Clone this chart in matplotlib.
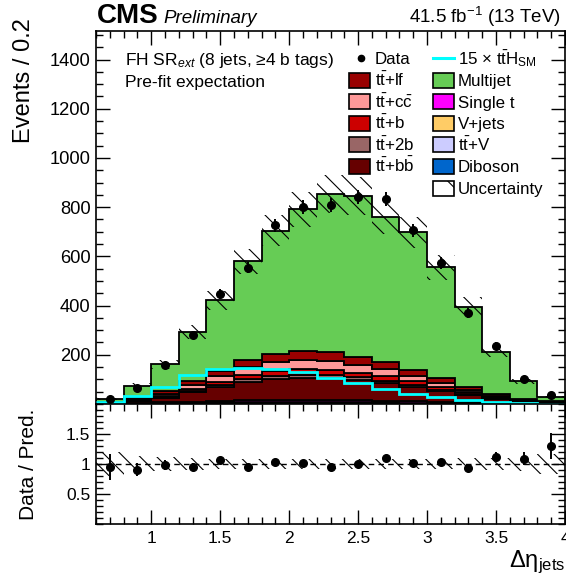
import numpy as np
import matplotlib
matplotlib.use("Agg")
import matplotlib.pyplot as plt
from matplotlib.patches import Rectangle
from matplotlib.lines import Line2D
from matplotlib.ticker import FixedLocator, MultipleLocator, NullFormatter

plt.rcParams['font.family'] = ['Liberation Sans', 'DejaVu Sans']
plt.rcParams['mathtext.fontset'] = 'custom'
plt.rcParams['mathtext.rm'] = 'Liberation Sans'
plt.rcParams['mathtext.it'] = 'Liberation Sans:italic'
plt.rcParams['mathtext.bf'] = 'Liberation Sans:bold'
plt.rcParams['hatch.linewidth'] = 0.8

# ---- binning: delta-eta of jets, 0.2 wide bins ----
bin_edges = [0.6, 0.8, 1.0, 1.2, 1.4, 1.6, 1.8, 2.0, 2.2, 2.4, 2.6, 2.8,
             3.0, 3.2, 3.4, 3.6, 3.8, 4.0]

# ---- pre-fit expectation per process (events / bin) ----
diboson  = [0.0, 0.0, 0.1, 0.1, 0.1, 0.2, 0.2, 0.2, 0.2, 0.2, 0.1, 0.1, 0.1, 0.1, 0.0, 0.0, 0.0]
ttv      = [0.3, 1.0, 2.0, 3.0, 4.0, 5.0, 5.5, 6.0, 6.0, 5.5, 5.0, 4.0, 3.0, 2.0, 1.0, 0.6, 0.3]
vjets    = [0.2, 0.5, 1.0, 1.5, 2.0, 2.0, 2.5, 2.5, 2.5, 2.0, 2.0, 1.5, 1.0, 1.0, 0.5, 0.3, 0.2]
single_t = [0.5, 1.5, 3.0, 5.0, 7.0, 8.0, 9.0, 9.0, 9.0, 8.0, 7.0, 6.0, 5.0, 3.0, 2.0, 1.0, 0.5]
ttbb     = [2.3, 9.5, 20, 38, 55, 74, 84, 88, 87, 80, 70, 57, 43, 29, 16.5, 8.5, 5.4]
tt2b     = [0.4, 1.5, 3.2, 5.9, 8.6, 11.5, 13, 13.7, 13.5, 12.4, 11, 8.9, 6.7, 4.5, 2.6, 1.3, 0.8]
ttb      = [0.6, 2.3, 5.0, 9.2, 13.5, 18, 20.5, 21.5, 21, 19.5, 17, 14, 10.5, 7.2, 4.0, 2.1, 1.3]
ttcc     = [0.9, 3.9, 8.3, 15.5, 22.8, 30.5, 34.6, 36.3, 35.7, 32.7, 28.9, 23.5, 17.8, 12, 6.8, 3.5, 2.2]
ttlf     = [0.9, 3.8, 8.5, 15.4, 23.1, 31, 35, 36.5, 35.8, 32.4, 28.1, 23.6, 17.5, 12.1, 6.6, 3.6, 2.3]
multijet = [15, 50, 111, 199, 285, 399, 500, 578, 643, 653, 592, 560, 451, 325, 170, 71, 14]

# ttH signal (SM normalisation), drawn scaled by 15
tth_sm = [0.53, 2.07, 4.73, 7.93, 9.53, 9.73, 9.53, 8.8, 7.0, 5.67, 4.07, 2.73, 1.87, 1.13, 0.67, 0.27, 0.13]
tth_scale = 15

# relative total uncertainty of the prediction
unc_rel = [0.20, 0.14, 0.11, 0.10, 0.09, 0.09, 0.09, 0.09, 0.09, 0.09, 0.09, 0.09, 0.09, 0.10, 0.10, 0.12, 0.16]

# observed events
data = [20, 67, 159, 279, 447, 554, 726, 801, 808, 841, 833, 707, 574, 369, 236, 100, 35]

# ---- stack definition (bottom to top) ----
stack = [
    ("Diboson",  diboson,  "#0066cc"),
    (r"$\mathrm{t\bar{t}}$+V", ttv, "#ccccff"),
    ("V+jets",   vjets,    "#ffcc66"),
    ("Single t", single_t, "#ff00ff"),
    (r"$\mathrm{t\bar{t}}$+b$\mathrm{\bar{b}}$", ttbb, "#660000"),
    (r"$\mathrm{t\bar{t}}$+2b", tt2b, "#996666"),
    (r"$\mathrm{t\bar{t}}$+b", ttb, "#cc0000"),
    (r"$\mathrm{t\bar{t}}$+c$\mathrm{\bar{c}}$", ttcc, "#ff9999"),
    (r"$\mathrm{t\bar{t}}$+lf", ttlf, "#990000"),
    ("Multijet", multijet, "#66cc55"),
]

edges = np.array(bin_edges)
centers = 0.5 * (edges[:-1] + edges[1:])
width = edges[1:] - edges[:-1]
data_arr = np.array(data, dtype=float)

W, H = 566, 583
fig = plt.figure(figsize=(W / 100, H / 100), dpi=100)

def fx(px):
    return px / W

def fy(py):
    return 1 - py / H

ax = fig.add_axes([fx(96), fy(404), fx(565) - fx(96), fy(31) - fy(404)])
axr = fig.add_axes([fx(96), fy(524), fx(565) - fx(96), fy(404) - fy(524)])

# ---- stacked prediction ----
base = np.zeros(len(centers))
for name, vals, col in stack:
    v = np.array(vals, dtype=float)
    ax.stairs(base + v, edges, baseline=base.copy(), fill=True,
              facecolor=col, edgecolor="black", linewidth=1.3, zorder=2)
    base = base + v
total = base

# uncertainty band
unc = total * np.array(unc_rel)
ax.bar(centers, 2 * unc, bottom=total - unc, width=width, facecolor="none",
       edgecolor="black", linewidth=0, hatch="\\\\", zorder=3)

# scaled signal
ax.stairs(tth_scale * np.array(tth_sm), edges, baseline=None,
          color="#00ffff", linewidth=2.0, zorder=4)

# data
ax.errorbar(centers, data_arr, yerr=np.sqrt(data_arr), fmt="o", color="black",
            ms=5.5, elinewidth=1.4, capsize=0, zorder=5)

ax.set_xlim(edges[0], edges[-1])
ax.set_ylim(0, 1516)

# ---- ratio panel ----
ratio = data_arr / total
ratio_err = np.sqrt(data_arr) / total
axr.bar(centers, 2 * np.array(unc_rel), bottom=1 - np.array(unc_rel), width=width,
        facecolor="none", edgecolor="black", linewidth=0, hatch="\\\\", zorder=2)
axr.axhline(1.0, color="black", linestyle=(0, (4, 3)), linewidth=1.0, zorder=3)
axr.errorbar(centers, ratio, yerr=ratio_err, fmt="o", color="black",
             ms=5.5, elinewidth=1.4, capsize=0, zorder=5)
axr.set_xlim(edges[0], edges[-1])
axr.set_ylim(0, 2)

# ---- axes styling ----
for a in (ax, axr):
    for s in a.spines.values():
        s.set_linewidth(1.2)
    a.xaxis.set_major_locator(MultipleLocator(0.5))
    a.xaxis.set_minor_locator(MultipleLocator(0.1))
    a.tick_params(which="both", direction="in", top=True, right=True, width=1.0)
    a.tick_params(which="major", length=10)
    a.tick_params(which="minor", length=5)

ax.xaxis.set_major_formatter(NullFormatter())
ax.yaxis.set_major_locator(FixedLocator([200, 400, 600, 800, 1000, 1200, 1400]))
ax.yaxis.set_minor_locator(MultipleLocator(50))
ax.tick_params(axis="y", labelsize=13.2, pad=4)

axr.yaxis.set_major_locator(FixedLocator([0.5, 1.0, 1.5]))
axr.set_yticklabels(["0.5", "1", "1.5"])
axr.yaxis.set_minor_locator(MultipleLocator(0.1))
axr.tick_params(axis="y", labelsize=12.5, pad=4)
axr.set_xticks([1, 1.5, 2, 2.5, 3, 3.5, 4])
axr.set_xticklabels(["1", "1.5", "2", "2.5", "3", "3.5", "4"])
axr.tick_params(axis="x", labelsize=12.5, pad=5)

axr.set_xlabel(r"Δη$_{\mathrm{jets}}$", fontsize=17, loc="right", labelpad=2)

fig.text(fx(24), fy(18), "Events / 0.2", rotation=90, ha="center", va="top", fontsize=17)
fig.text(fx(28), fy(464), "Data / Pred.", rotation=90, ha="center", va="center", fontsize=15)

# ---- header ----
fig.text(fx(97), fy(23), "CMS", fontsize=20, fontweight="bold", ha="left", va="baseline")
fig.text(fx(163), fy(23), "Preliminary", fontsize=13.5, style="italic", ha="left", va="baseline")
fig.text(fx(561), fy(23), r"41.5 fb$^{-1}$ (13 TeV)", fontsize=13.5, ha="right", va="baseline")

fig.text(fx(125), fy(65), r"FH SR$_{\mathit{ext}}$ (8 jets, ≥4 b tags)", fontsize=12.5,
         ha="left", va="baseline")
fig.text(fx(125), fy(87), "Pre-fit expectation", fontsize=12.5, ha="left", va="baseline")

# ---- legend (two columns) ----
row_y = [58.3, 80.0, 101.6, 123.2, 144.8, 166.4, 188.0]
leg_fs = 12.2
box_w, box_h = 21, 15

def leg_box(x, y, color, hatch=None):
    r = Rectangle((fx(x), fy(y + box_h / 2)), box_w / W, box_h / H,
                  transform=fig.transFigure, facecolor=color, edgecolor="black",
                  linewidth=1.2, hatch=hatch)
    fig.add_artist(r)

def leg_text(x, y, s):
    fig.text(fx(x), fy(y + 6), s, fontsize=leg_fs, ha="left", va="baseline")

# left column: data and tt components
fig.add_artist(Line2D([fx(360.5)], [fy(row_y[0])], marker="o", ms=4.5, color="black",
                      linestyle="none", transform=fig.transFigure))
leg_text(375, row_y[0], "Data")
left_entries = [(r"$\mathrm{t\bar{t}}$+lf", "#990000"),
                (r"$\mathrm{t\bar{t}}$+c$\mathrm{\bar{c}}$", "#ff9999"),
                (r"$\mathrm{t\bar{t}}$+b", "#cc0000"),
                (r"$\mathrm{t\bar{t}}$+2b", "#996666"),
                (r"$\mathrm{t\bar{t}}$+b$\mathrm{\bar{b}}$", "#660000")]
for i, (lab, col) in enumerate(left_entries):
    leg_box(349, row_y[i + 1], col)
    leg_text(375, row_y[i + 1], lab)

# right column: signal, other backgrounds, uncertainty
fig.add_artist(Line2D([fx(433), fx(454)], [fy(row_y[0]), fy(row_y[0])], color="#00ffff",
                      linewidth=2.2, transform=fig.transFigure))
leg_text(458, row_y[0], r"15 $\times$ $\mathrm{t\bar{t}H_{SM}}$")
right_entries = [("Multijet", "#66cc55"), ("Single t", "#ff00ff"), ("V+jets", "#ffcc66"),
                 (r"$\mathrm{t\bar{t}}$+V", "#ccccff"), ("Diboson", "#0066cc")]
for i, (lab, col) in enumerate(right_entries):
    leg_box(433, row_y[i + 1], col)
    leg_text(458, row_y[i + 1], lab)
leg_box(433, row_y[6], "white", hatch="\\")
leg_text(458, row_y[6], "Uncertainty")

fig.savefig("out.png", dpi=100)
